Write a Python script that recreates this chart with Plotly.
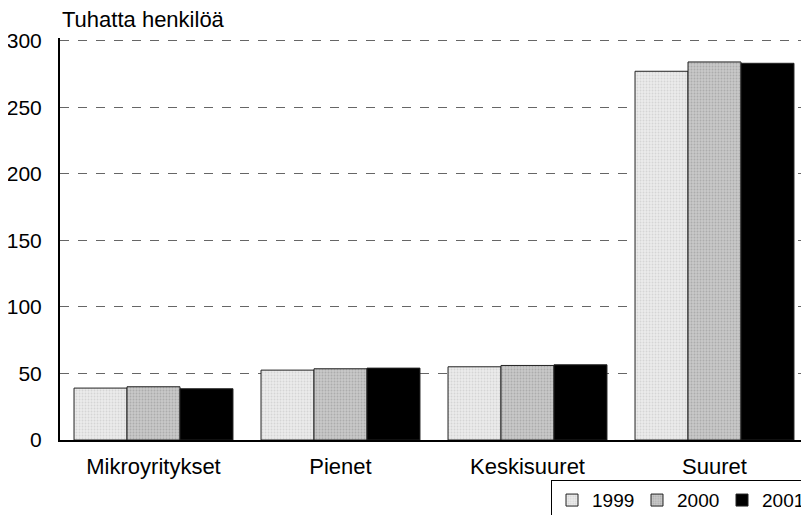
import plotly.graph_objects as go

categories = ["Mikroyritykset", "Pienet", "Keskisuuret", "Suuret"]
years = ["1999", "2000", "2001"]
v1999 = [39, 52.5, 55, 277]
v2000 = [40, 53.5, 56, 284]
v2001 = [38.5, 54, 56.5, 283]
y_ticks = [0, 50, 100, 150, 200, 250, 300]

bg_colors = ["#ebebeb", "#c8c8c8", "#000000"]
fg_colors = ["#c0c0c0", "#909090", "#000000"]

fig = go.Figure()
for name, vals, bg, fg in zip(years, [v1999, v2000, v2001], bg_colors, fg_colors):
    fig.add_trace(
        go.Bar(
            x=categories,
            y=vals,
            name=name,
            marker=dict(
                color=bg,
                line=dict(color="#222222", width=1),
                pattern=dict(shape=".", fgcolor=fg, bgcolor=bg, size=3, solidity=0.3),
            ),
        )
    )

# the page body adds an 8px margin, so the figure is 8px smaller than the window
fig.update_layout(
    width=801,
    height=507,
    # keep the legend from pushing the plot area around
    margin=dict(l=52, r=1, t=30, b=75, autoexpand=False),
    paper_bgcolor="white",
    plot_bgcolor="white",
    font=dict(family="Liberation Sans, Arial, sans-serif", size=21, color="black"),
    barmode="group",
    bargap=0.15,
    bargroupgap=0,
    showlegend=True,
    legend=dict(
        orientation="h",
        x=1.0,
        xanchor="right",
        y=-0.1,
        yanchor="top",
        bordercolor="black",
        borderwidth=1,
        font=dict(size=19),
        itemwidth=30,
        entrywidth=40,
        tracegroupgap=0,
    ),
    annotations=[
        dict(
            text="Tuhatta henkilöä",
            x=0,
            xref="paper",
            xanchor="left",
            y=1.0,
            yref="paper",
            yanchor="bottom",
            yshift=4,
            showarrow=False,
            font=dict(size=22),
        )
    ],
)

fig.update_yaxes(
    range=[0, 302],
    tickvals=y_ticks,
    showgrid=True,
    gridcolor="#666666",
    griddash="dash",
    gridwidth=1,
    showline=True,
    linecolor="black",
    linewidth=2,
    ticks="",
    ticklabelstandoff=12,
    zeroline=False,
    automargin=False,
)
fig.update_xaxes(
    showline=True,
    linecolor="black",
    linewidth=2,
    ticks="",
    ticklabelstandoff=6,
    tickfont=dict(size=22),
    automargin=False,
)

fig.write_html("out.html")
